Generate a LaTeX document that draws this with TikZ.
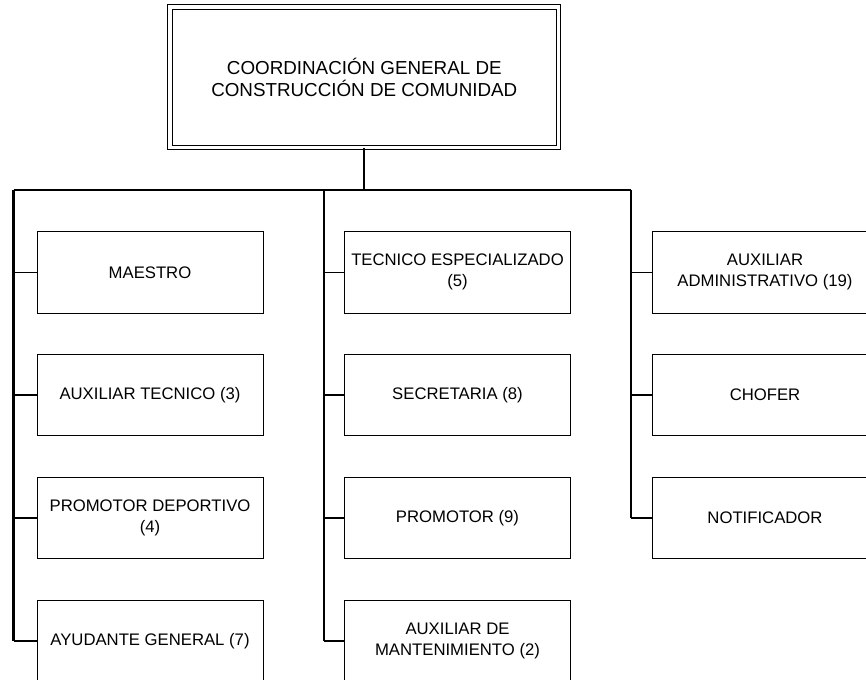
\documentclass[tikz,border=0pt]{standalone}
\usepackage{fontspec}
\setmainfont{Liberation Sans}
\begin{document}
\begin{tikzpicture}[x=1pt,y=-1pt,
  headbox/.style={draw, line width=1pt, double, double distance=3.5pt,
    minimum width=388.5pt, minimum height=140.5pt, inner sep=0pt, align=center,
    font=\fontsize{18.8}{22.3}\selectfont},
  unit/.style={draw, line width=0.9pt, minimum width=226pt, minimum height=81.5pt,
    inner sep=0pt, align=center, font=\fontsize{16.7}{21}\selectfont},
  trunk/.style={line width=2.2pt},
  branch/.style={line width=1.6pt}]
\clip (0,0) rectangle (866,679);

% head of the chart
\node[headbox] (coord) at (364.3,77.5) {COORDINACIÓN GENERAL DE\\CONSTRUCCIÓN DE COMUNIDAD};

% first column
\node[unit] (maestro)   at (150,272.3) {MAESTRO};
\node[unit] (auxtec)    at (150,395)   {AUXILIAR TECNICO (3)};
\node[unit] (promdep)   at (150,517.8) {PROMOTOR DEPORTIVO\\(4)};
\node[unit] (ayudante)  at (150,640.7) {AYUDANTE GENERAL (7)};

% second column
\node[unit] (tecesp)    at (457.5,272.3) {TECNICO ESPECIALIZADO\\(5)};
\node[unit] (secret)    at (457.5,395)   {SECRETARIA (8)};
\node[unit] (promotor)  at (457.5,517.8) {PROMOTOR (9)};
\node[unit] (auxmant)   at (457.5,640.7) {AUXILIAR DE\\MANTENIMIENTO (2)};

% third column
\node[unit] (auxadm)    at (765,272.3) {AUXILIAR\\ADMINISTRATIVO (19)};
\node[unit] (chofer)    at (765,395)   {CHOFER};
\node[unit] (notif)     at (765,517.8) {NOTIFICADOR};

% distribution bus
\coordinate (j1) at (13.5,190);
\coordinate (j2) at (324,190);
\coordinate (j3) at (631,190);
\coordinate (stem) at (coord.south |- j1);

\draw[trunk] (coord.south) -- (stem);
\draw[line width=2.6pt] (j1) -- (stem);
\draw[trunk] (stem) -- (j3);

% column spines
\draw[trunk] (j1) -- (j1 |- ayudante.west);
\draw[trunk] (j2) -- (j2 |- auxmant.west);
\draw[trunk] (j3) -- (j3 |- notif.west);

% branches to the units
\foreach \n in {maestro,auxtec,promdep,ayudante}
  \draw[branch] (j1 |- \n.west) -- (\n.west);
\foreach \n in {tecesp,secret,promotor,auxmant}
  \draw[branch] (j2 |- \n.west) -- (\n.west);
\foreach \n in {auxadm,chofer,notif}
  \draw[branch] (j3 |- \n.west) -- (\n.west);
\end{tikzpicture}
\end{document}
